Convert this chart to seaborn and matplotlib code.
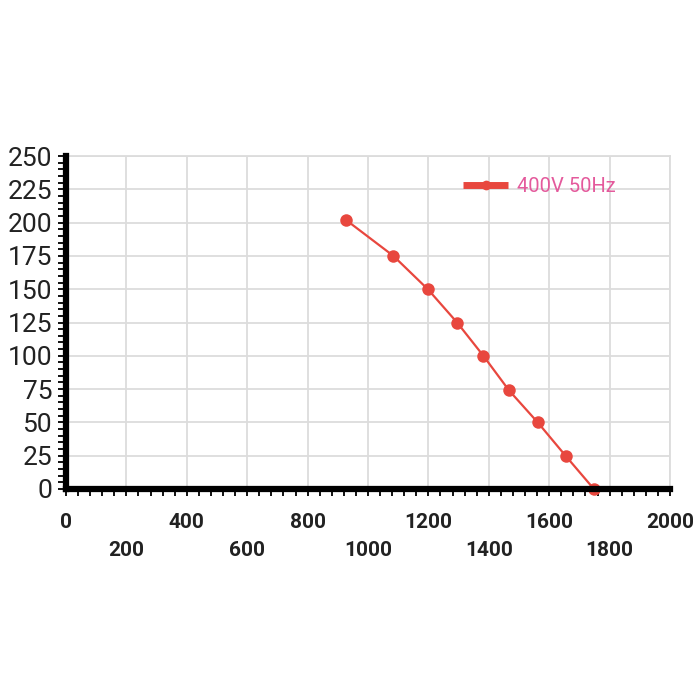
import numpy as np
import pandas as pd
import matplotlib
matplotlib.use("Agg")
import matplotlib.pyplot as plt
from matplotlib.ticker import MultipleLocator
import seaborn as sns

# data
airflow = [927, 1084, 1198, 1295, 1382, 1467, 1562, 1654, 1748]
pressure = [202, 175, 150, 125, 100, 74, 50, 25, 0]
series_label = "400V 50Hz"

x_ticks = list(range(0, 2001, 200))
y_ticks = list(range(0, 251, 25))

df = pd.DataFrame({"airflow": airflow, "pressure": pressure})

sns.set_style("whitegrid")
plt.rcParams["font.family"] = ["Roboto", "DejaVu Sans"]

line_red = "#e8473e"
label_pink = "#e45a9c"
grid_gray = "#dcdcdc"

fig = plt.figure(figsize=(7, 7), dpi=100)
ax = fig.add_axes([66 / 700, 1 - 489 / 700, 604 / 700, 333 / 700])

sns.lineplot(data=df, x="airflow", y="pressure", ax=ax, color=line_red,
             marker="o", markersize=9, markeredgewidth=0, linewidth=1.6,
             label=series_label, zorder=5, clip_on=False)

ax.set_xlim(0, 2000)
ax.set_ylim(0, 250)
ax.set_xlabel("")
ax.set_ylabel("")

# grid
ax.grid(True, which="major", color=grid_gray, linewidth=1.3)
ax.xaxis.set_major_locator(MultipleLocator(200))
ax.yaxis.set_major_locator(MultipleLocator(25))
ax.xaxis.set_minor_locator(MultipleLocator(40))
ax.yaxis.set_minor_locator(MultipleLocator(5))

# spines
for side in ["top", "right"]:
    ax.spines[side].set_color(grid_gray)
    ax.spines[side].set_linewidth(1.3)
for side in ["left", "bottom"]:
    ax.spines[side].set_color("black")
    ax.spines[side].set_linewidth(4.5)
    ax.spines[side].set_zorder(6)

# ticks
ax.tick_params(axis="both", which="both", direction="out", color="black",
               width=1.3, left=True, bottom=True)
ax.tick_params(axis="y", which="major", length=6, pad=4, labelsize=19)
ax.tick_params(axis="y", which="minor", length=6)
ax.tick_params(axis="x", which="major", length=5, pad=12, labelsize=15)
ax.tick_params(axis="x", which="minor", length=5)

ax.set_yticks(y_ticks)
ax.set_yticklabels([str(v) for v in y_ticks], color="#222222")

# alternate x labels on two rows
x_labels = [str(v) if i % 2 == 0 else "\n" + str(v) for i, v in enumerate(x_ticks)]
ax.set_xticks(x_ticks)
ax.set_xticklabels(x_labels, fontweight="bold", color="#222222", linespacing=1.65)

# legend
leg = ax.legend(loc="center left", bbox_to_anchor=(0.628, 0.907), frameon=False,
                handlelength=2.2, handletextpad=0.45, fontsize=14.5,
                labelcolor=label_pink)
for h in leg.legend_handles:
    h.set_linewidth(5)
    h.set_markersize(7)
    h.set_solid_capstyle("butt")

fig.savefig("out.png", dpi=100, facecolor="white")
